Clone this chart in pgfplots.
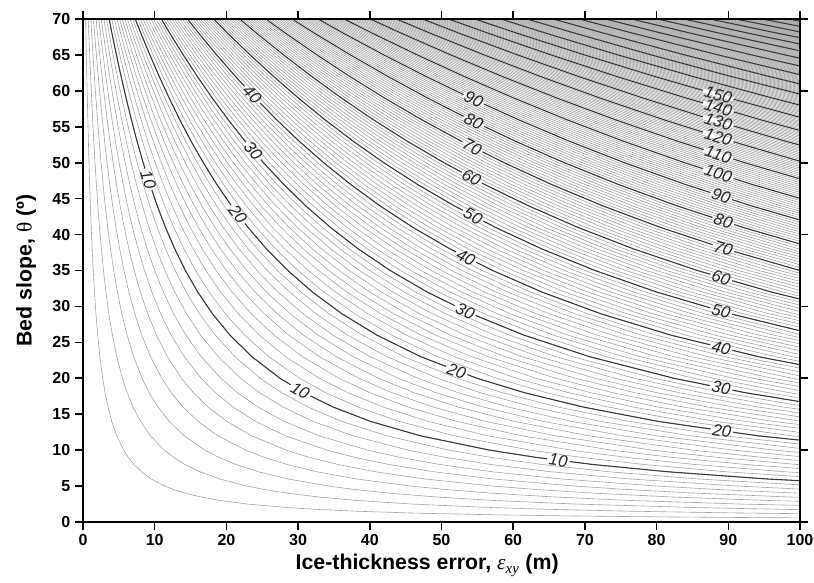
\documentclass[border=0pt]{standalone}
\usepackage{fontspec}
\setmainfont{Liberation Sans}
\newfontfamily\seriffont{Liberation Serif}
\usepackage{pgfplots}
\usepackage{pgfplotstable}
\pgfplotsset{compat=1.18}

% contour shape: cot(theta) against theta; level z lies at x = z*cot(theta)
\pgfplotstableread{
c t
0.344328 71
0.404026 68
0.466308 65
0.531709 62
0.600861 59
0.674509 56
0.753554 53
0.839100 50
0.932515 47
1.035530 44
1.150368 41
1.279942 38
1.428148 35
1.600335 32
1.804048 29
2.050304 26
2.355852 23
2.747477 20
3.077684 18
3.487414 16
4.010781 14
4.704630 12
5.671282 10
6.313752 9
7.115370 8
8.144346 7
9.514364 6
11.430052 5
12.706205 4.5
14.300666 4
16.349855 3.5
19.081137 3
22.903766 2.5
28.636253 2
32.730200 1.75
38.188500 1.5
45.829300 1.25
57.290000 1
67.401900 0.85
81.847000 0.7
95.489500 0.6
114.588700 0.5
143.237100 0.4
190.984200 0.3
229.181700 0.25
}\shape

\tikzset{clabel/.style={font=\itshape\fontsize{12.5}{14}\selectfont, text=black!85,
  fill=white, inner xsep=1.5pt, inner ysep=-2.9pt}}
\pgfplotsset{
  fine/.style={black!36, line width=0.45pt, mark=none, restrict x to domain=-1:200},
  major/.style={black!78, line width=0.8pt, mark=none, restrict x to domain=-1:200},
  frame/.style={scale only axis, width=537.75pt, height=377.25pt,
    at={(0,0)}, anchor=south west,
    xmin=0, xmax=100, ymin=0, ymax=70,
    tick align=outside, major tick length=6pt,
    axis line style={line width=1.5pt},
    every tick/.style={black, line width=1.2pt}},
}

\begin{document}
\begin{tikzpicture}
\begin{axis}[
  frame,
  axis on top,
  xtick={0,10,...,100}, ytick={0,5,...,70},
  xtick pos=both, xticklabel pos=bottom, ytick pos=left,
  /pgf/number format/assume math mode=true,
  ticklabel style={font=\bfseries\fontsize{12}{14}\selectfont},
  xlabel={Ice-thickness error, {\seriffont\mdseries\itshape ε}\textsubscript{\seriffont\mdseries\itshape xy} (m)},
  ylabel={Bed slope, {\seriffont\mdseries θ} (º)},
  label style={font=\bfseries\fontsize{16}{19}\selectfont},
  xlabel style={at={(axis description cs:0.48,-0.0954)}, anchor=base},
  ylabel style={at={(axis description cs:-0.0795,0.5)}, anchor=center},
]
\pgfplotsinvokeforeach{1,...,274}{
  \addplot[fine] table[x expr=\thisrow{c}*#1, y=t] {\shape};
}
\pgfplotsinvokeforeach{10,20,...,270}{
  \addplot[major] table[x expr=\thisrow{c}*#1, y=t] {\shape};
}

% left group
\node[clabel, rotate=-72.3] at (axis cs:9.1,47.69) {10};
\node[clabel, rotate=-52.9] at (axis cs:21.6,42.80) {20};
\node[clabel, rotate=-49.6] at (axis cs:23.75,51.64) {30};
\node[clabel, rotate=-46.8] at (axis cs:23.6,59.46) {40};
\node[clabel, rotate=-29.4] at (axis cs:30.3,18.26) {10};
% middle group
\node[clabel, rotate=-20.2] at (axis cs:52.1,21.00) {20};
\node[clabel, rotate=-24.7] at (axis cs:53.3,29.37) {30};
\node[clabel, rotate=-27.3] at (axis cs:53.4,36.84) {40};
\node[clabel, rotate=-27.7] at (axis cs:54.4,42.59) {50};
\node[clabel, rotate=-27.8] at (axis cs:54.2,47.91) {60};
\node[clabel, rotate=-27.1] at (axis cs:54.3,52.20) {70};
\node[clabel, rotate=-26.1] at (axis cs:54.5,55.73) {80};
\node[clabel, rotate=-25.0] at (axis cs:54.5,58.80) {90};
% right group
\node[clabel, rotate=-7.3] at (axis cs:66.3,8.58) {10};
\node[clabel, rotate=-7.8] at (axis cs:89.1,12.65) {20};
\node[clabel, rotate=-11.0] at (axis cs:89.0,18.63) {30};
\node[clabel, rotate=-13.5] at (axis cs:89.0,24.20) {40};
\node[clabel, rotate=-15.4] at (axis cs:89.0,29.33) {50};
\node[clabel, rotate=-16.6] at (axis cs:89.0,33.99) {60};
\node[clabel, rotate=-17.3] at (axis cs:89.3,38.09) {70};
\node[clabel, rotate=-17.7] at (axis cs:89.3,41.86) {80};
\node[clabel, rotate=-17.9] at (axis cs:89.0,45.32) {90};
\node[clabel, rotate=-17.8] at (axis cs:88.6,48.46) {100};
\node[clabel, rotate=-17.5] at (axis cs:88.6,51.15) {110};
\node[clabel, rotate=-17.2] at (axis cs:88.6,53.56) {120};
\node[clabel, rotate=-16.8] at (axis cs:88.6,55.72) {130};
\node[clabel, rotate=-16.3] at (axis cs:88.6,57.67) {140};
\node[clabel, rotate=-15.8] at (axis cs:88.6,59.44) {150};
\end{axis}
% right-hand ticks every 10
\begin{axis}[
  frame,
  axis x line=none, axis y line*=right,
  ytick={0,10,...,70}, yticklabels={},
]
\end{axis}
\pgfresetboundingbox
\path[use as bounding box] (-62.25pt,-45pt) rectangle (548.25pt,391.5pt);
\end{tikzpicture}
\end{document}
